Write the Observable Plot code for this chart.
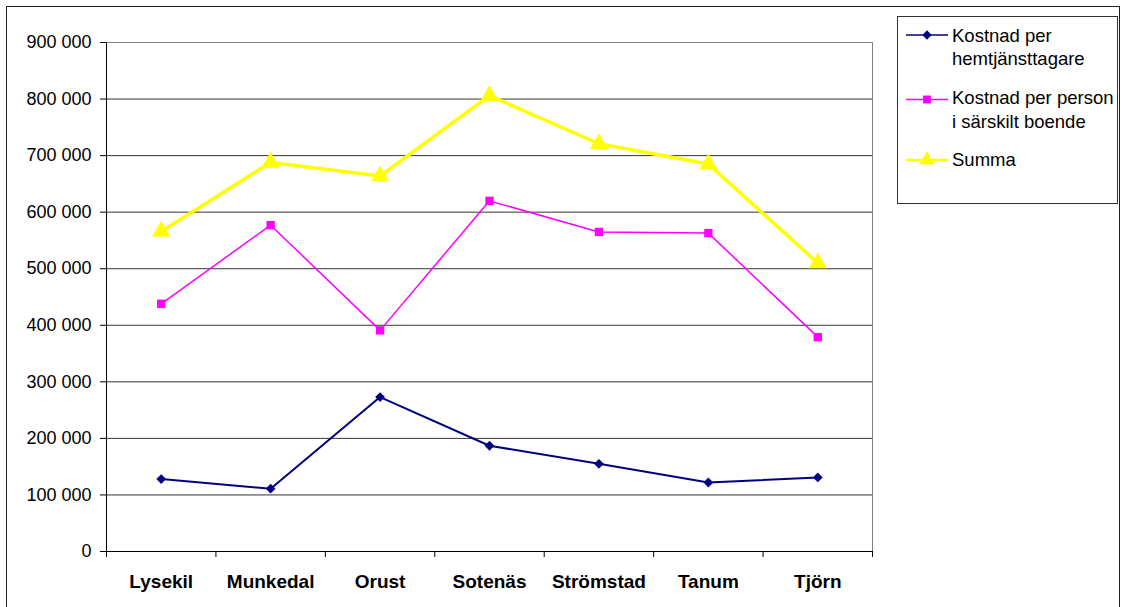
<!DOCTYPE html>
<html><head><meta charset="utf-8">
<script src="https://cdn.jsdelivr.net/npm/d3@7"></script>
<script src="https://cdn.jsdelivr.net/npm/@observablehq/plot@0.6"></script>
<style>body{margin:0;background:#fff}</style>
</head><body><div id="chart"></div>
<script>
const categories = ["Lysekil","Munkedal","Orust","Sotenäs","Strömstad","Tanum","Tjörn"];
const hemtjanst = [128000,111000,273000,187000,155000,122000,131000];
const sarskilt  = [438000,577000,391000,620000,565000,563000,379000];
const summa     = [566000,688000,664000,806000,721000,685000,510000];
const seriesNames = [["Kostnad per","hemtjänsttagare"],["Kostnad per person","i särskilt boende"],["Summa"]];
const seriesColors = ["#000080","#FF00FF","#FFFF00"];
const yTicks = [0,100000,200000,300000,400000,500000,600000,700000,800000,900000];

const seriesValues = [hemtjanst, sarskilt, summa];
const symbolNames = ["diamond2","square","triangle"];
const d3Symbols = [d3.symbolDiamond2, d3.symbolSquare, d3.symbolTriangle];
const widths = [2, 1.5, 3.5];
const radii = [4.4, 4.7, 6.8];
const fmt = v => d3.format(",")(v).replace(/,/g, " ");
const rows = s => categories.map((c, i) => ({x: i + 0.5, y: seriesValues[s][i], c}));

const marks = [
  Plot.gridY(yTicks.filter(v => v > 0), {stroke: "#000", strokeOpacity: 0.8}),
  Plot.frame({stroke: "#808080"}),
  Plot.axisY(yTicks, {tickSize: 6, tickPadding: 9, tickFormat: fmt, fontSize: 18, stroke: "#000", label: null}),
  Plot.ruleX([0], {stroke: "#000"}),
  Plot.ruleY([0], {stroke: "#000"}),
  Plot.axisX(d3.range(8), {tickSize: 6, tickFormat: () => "", stroke: "#000", label: null}),
  Plot.axisX(categories.map((c, i) => i + 0.5), {tickSize: 0, tickPadding: 23, tickFormat: v => categories[Math.floor(v)], fontWeight: "bold", fontSize: 19, label: null})
];
for (let s = 0; s < 3; s++) {
  marks.push(Plot.line(rows(s), {x: "x", y: "y", stroke: seriesColors[s], strokeWidth: widths[s]}));
  marks.push(Plot.dot(rows(s), {x: "x", y: "y", symbol: symbolNames[s], fill: seriesColors[s], stroke: "none", r: radii[s]}));
}

const chart = Plot.plot({
  width: 1127, height: 607,
  marginLeft: 106, marginRight: 255, marginTop: 42, marginBottom: 56,
  style: {fontFamily: "'Liberation Sans', Arial, sans-serif", color: "#000", background: "#fff"},
  x: {domain: [0, 7], label: null},
  y: {domain: [0, 900000], label: null},
  marks
});
document.getElementById("chart").appendChild(chart);

const svg = d3.select(chart);
svg.append("rect").attr("x", 6.5).attr("y", 6.5).attr("width", 1113).attr("height", 640)
  .attr("fill", "none").attr("stroke", "#222").attr("stroke-width", 1);
const lg = svg.append("g").attr("text-anchor", "start");
lg.append("rect").attr("x", 897.5).attr("y", 16.5).attr("width", 220).attr("height", 187)
  .attr("fill", "#fff").attr("stroke", "#333").attr("stroke-width", 1);
const symY = [35, 99.5, 160];
const baselines = [[41.5, 65], [103.5, 127.5], [165.5]];
const legendWidths = [1.5, 1.5, 2.5];
for (let s = 0; s < 3; s++) {
  lg.append("line").attr("x1", 906).attr("x2", 948).attr("y1", symY[s]).attr("y2", symY[s])
    .attr("stroke", seriesColors[s]).attr("stroke-width", legendWidths[s]);
  lg.append("path").attr("transform", `translate(927,${symY[s]})`)
    .attr("d", d3.symbol(d3Symbols[s], Math.PI * radii[s] * radii[s] * (s === 2 ? 0.7 : 0.9))())
    .attr("fill", seriesColors[s]);
  seriesNames[s].forEach((t, j) => {
    lg.append("text").attr("x", 952).attr("y", baselines[s][j]).text(t)
      .attr("text-anchor", "start")
      .attr("font-size", 18.5).attr("fill", "#000")
      .attr("font-family", "'Liberation Sans', Arial, sans-serif");
  });
}
</script>
</body></html>
